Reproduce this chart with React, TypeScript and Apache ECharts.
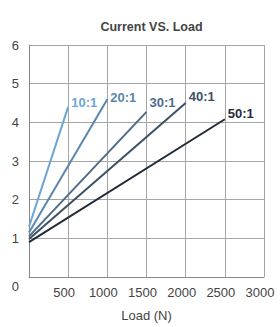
import React, { useEffect, useRef } from "react";
import * as echarts from "echarts";

const ratios = ["10:1", "20:1", "30:1", "40:1", "50:1"];
const loadStart = [0, 0, 0, 0, 0];
const loadEnd = [500, 1000, 1500, 2000, 2500];
const currentStart = [1.3, 1.15, 1.05, 0.98, 0.9];
const currentEnd = [4.4, 4.6, 4.27, 4.5, 4.08];
const colors = ["#6ea3d2", "#5b86ad", "#4f6c8b", "#3d5064", "#222c38"];
const labelOffsets = [[0, -4], [0, -2], [0, -9], [0, -7], [0, -6]];

const xTicks = { min: 0, max: 3000, interval: 500 };
const yTicks = { min: 0, max: 6, interval: 1 };

const FONT = "Liberation Sans, Arial, sans-serif";

export default function App() {
  const ref = useRef<HTMLDivElement>(null);
  useEffect(() => {
    if (!ref.current) return;
    const chart = echarts.init(ref.current, null, { renderer: "svg" });
    const series = ratios.map((name, i) => ({
      name,
      type: "line",
      showSymbol: false,
      symbol: "none",
      lineStyle: { color: colors[i], width: 2 },
      itemStyle: { color: colors[i] },
      endLabel: {
        show: true,
        distance: 3,
        offset: labelOffsets[i],
        formatter: name,
        color: colors[i],
        fontWeight: "bold",
        fontSize: 13,
        fontFamily: FONT,
      },
      data: [
        [loadStart[i], currentStart[i]],
        [loadEnd[i], currentEnd[i]],
      ],
    }));
    chart.setOption({
      animation: false,
      title: {
        text: "Current VS. Load",
        left: 146.5,
        textAlign: "center",
        top: 15,
        textStyle: {
          fontSize: 12.5,
          fontWeight: "bold",
          color: "#444",
          fontFamily: FONT,
        },
      },
      grid: { left: 29, top: 45, width: 235, height: 236 },
      xAxis: {
        type: "value",
        min: xTicks.min,
        max: xTicks.max,
        interval: xTicks.interval,
        name: "Load (N)",
        nameLocation: "middle",
        nameGap: 32,
        nameTextStyle: { fontSize: 13, color: "#444", fontFamily: FONT },
        axisLine: { show: true, lineStyle: { color: "#888", width: 1 } },
        axisTick: { show: false },
        splitLine: { show: true, lineStyle: { color: "#a6a6a6", width: 1 } },
        axisLabel: {
          showMinLabel: false,
          formatter: (v: number) => (v === 0 ? "" : String(v)),
          fontSize: 13,
          color: "#444",
          margin: 9,
          padding: [0, 8, 0, 0],
          fontFamily: FONT,
        },
      },
      yAxis: {
        type: "value",
        min: yTicks.min,
        max: yTicks.max,
        interval: yTicks.interval,
        axisLine: { show: true, lineStyle: { color: "#888", width: 1 } },
        axisTick: { show: false },
        splitLine: { show: true, lineStyle: { color: "#a6a6a6", width: 1 } },
        axisLabel: {
          fontSize: 13,
          color: "#444",
          margin: 10,
          fontFamily: FONT,
          formatter: (v: number) => (v === 0 ? "{z|0}" : String(v)),
          rich: {
            z: { fontSize: 13, color: "#444", padding: [18, 0, 0, 0], fontFamily: FONT },
          },
        },
      },
      series,
    });
    return () => chart.dispose();
  }, []);
  return (
    <div
      ref={ref}
      style={{ position: "fixed", left: 0, top: 0, width: 280, height: 327, background: "#fff" }}
    />
  );
}
